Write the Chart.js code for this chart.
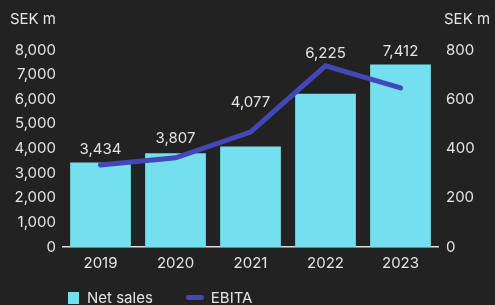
<!DOCTYPE html>
<html>
<head>
<meta charset="utf-8">
<script src="https://cdn.jsdelivr.net/npm/chart.js@4"></script>
<style>
  html, body { margin: 0; padding: 0; background: #222222; }
  #wrap { position: relative; width: 495px; height: 305px; }
  #legend { position: absolute; left: 68px; top: 287px; font: 15px Inter, sans-serif; color: #e4e4e4; white-space: nowrap; }
  #legend span { display: inline-block; vertical-align: middle; }
  .sq { width: 11px; height: 12px; background: #74dfee; margin-right: 8px; }
  .ln { width: 18px; height: 5px; border-radius: 3px; background: #4347b8; margin: 0 7px 0 33px; }
</style>
</head>
<body>
<div id="wrap">
  <canvas id="chart" width="495" height="305"></canvas>
  <div id="legend"><span class="sq"></span><span>Net sales</span><span class="ln"></span><span>EBITA</span></div>
</div>
<script>
const years = ['2019', '2020', '2021', '2022', '2023'];
const netSales = [3434, 3807, 4077, 6225, 7412];
const ebita = [333, 362, 467, 736, 646];
const salesTicks = [0, 1000, 2000, 3000, 4000, 5000, 6000, 7000, 8000];
const ebitaTicks = [0, 200, 400, 600, 800];

const textColor = '#e4e4e4';
const fontSpec = { family: 'Inter, sans-serif', size: 15 };

// value labels above bar / line, whichever is higher over the label width
const valueLabels = {
  id: 'valueLabels',
  afterDatasetsDraw(chart) {
    const ctx = chart.ctx;
    const bars = chart.getDatasetMeta(0).data;
    const pts = chart.getDatasetMeta(1).data;
    ctx.save();
    ctx.font = '15px Inter, sans-serif';
    ctx.fillStyle = textColor;
    ctx.textAlign = 'center';
    ctx.textBaseline = 'alphabetic';
    const lineY = x => {
      for (let i = 0; i < pts.length - 1; i++) {
        const a = pts[i], b = pts[i + 1];
        if (x >= a.x && x <= b.x) return a.y + (b.y - a.y) * (x - a.x) / (b.x - a.x);
      }
      return Infinity;
    };
    bars.forEach((bar, i) => {
      const txt = netSales[i].toLocaleString('en-US');
      const w = ctx.measureText(txt).width;
      let top = bar.y;
      for (let x = bar.x - w / 2; x <= bar.x + w / 2; x += 1) top = Math.min(top, lineY(x));
      ctx.fillText(txt, bar.x, top - 8);
    });
    ctx.restore();
  }
};

// "SEK m" unit titles above each axis
const unitTitles = {
  id: 'unitTitles',
  afterDraw(chart) {
    const ctx = chart.ctx;
    ctx.save();
    ctx.font = '15px Inter, sans-serif';
    ctx.fillStyle = textColor;
    ctx.textBaseline = 'middle';
    ctx.textAlign = 'right';
    ctx.fillText('SEK m', chart.scales.y.right - 7, 19);
    ctx.textAlign = 'left';
    ctx.fillText('SEK m', chart.scales.y1.left + 6, 19);
    ctx.restore();
  }
};

new Chart(document.getElementById('chart'), {
  data: {
    labels: years,
    datasets: [
      {
        type: 'bar',
        label: 'Net sales',
        data: netSales,
        backgroundColor: '#74dfee',
        barPercentage: 0.81,
        categoryPercentage: 1,
        yAxisID: 'y',
        order: 1
      },
      {
        type: 'line',
        label: 'EBITA',
        data: ebita,
        borderColor: '#4347b8',
        borderWidth: 5,
        borderCapStyle: 'round',
        pointRadius: 0,
        tension: 0,
        yAxisID: 'y1',
        order: 0
      }
    ]
  },
  options: {
    responsive: false,
    animation: false,
    layout: { padding: { top: 50, left: 0, right: 0, bottom: 0 } },
    plugins: {
      legend: { display: false },
      tooltip: { enabled: false }
    },
    scales: {
      x: {
        grid: { display: false, drawTicks: false },
        border: { display: true, color: '#dddddd', width: 1.5 },
        ticks: { color: textColor, font: fontSpec, padding: 7 },
        afterFit(s) { s.height = 58; }
      },
      y: {
        position: 'left',
        min: 0, max: 8000,
        grid: { display: false, drawTicks: false },
        border: { display: false },
        afterBuildTicks(s) { s.ticks = salesTicks.map(v => ({ value: v })); },
        ticks: { color: textColor, font: fontSpec, padding: 7, callback: v => v.toLocaleString('en-US') },
        afterFit(s) { s.width = 63; }
      },
      y1: {
        position: 'right',
        min: 0, max: 800,
        grid: { display: false, drawTicks: false },
        border: { display: false },
        afterBuildTicks(s) { s.ticks = ebitaTicks.map(v => ({ value: v })); },
        ticks: { color: textColor, font: fontSpec, padding: 8 },
        afterFit(s) { s.width = 57; }
      }
    }
  },
  plugins: [valueLabels, unitTitles]
});
</script>
</body>
</html>
